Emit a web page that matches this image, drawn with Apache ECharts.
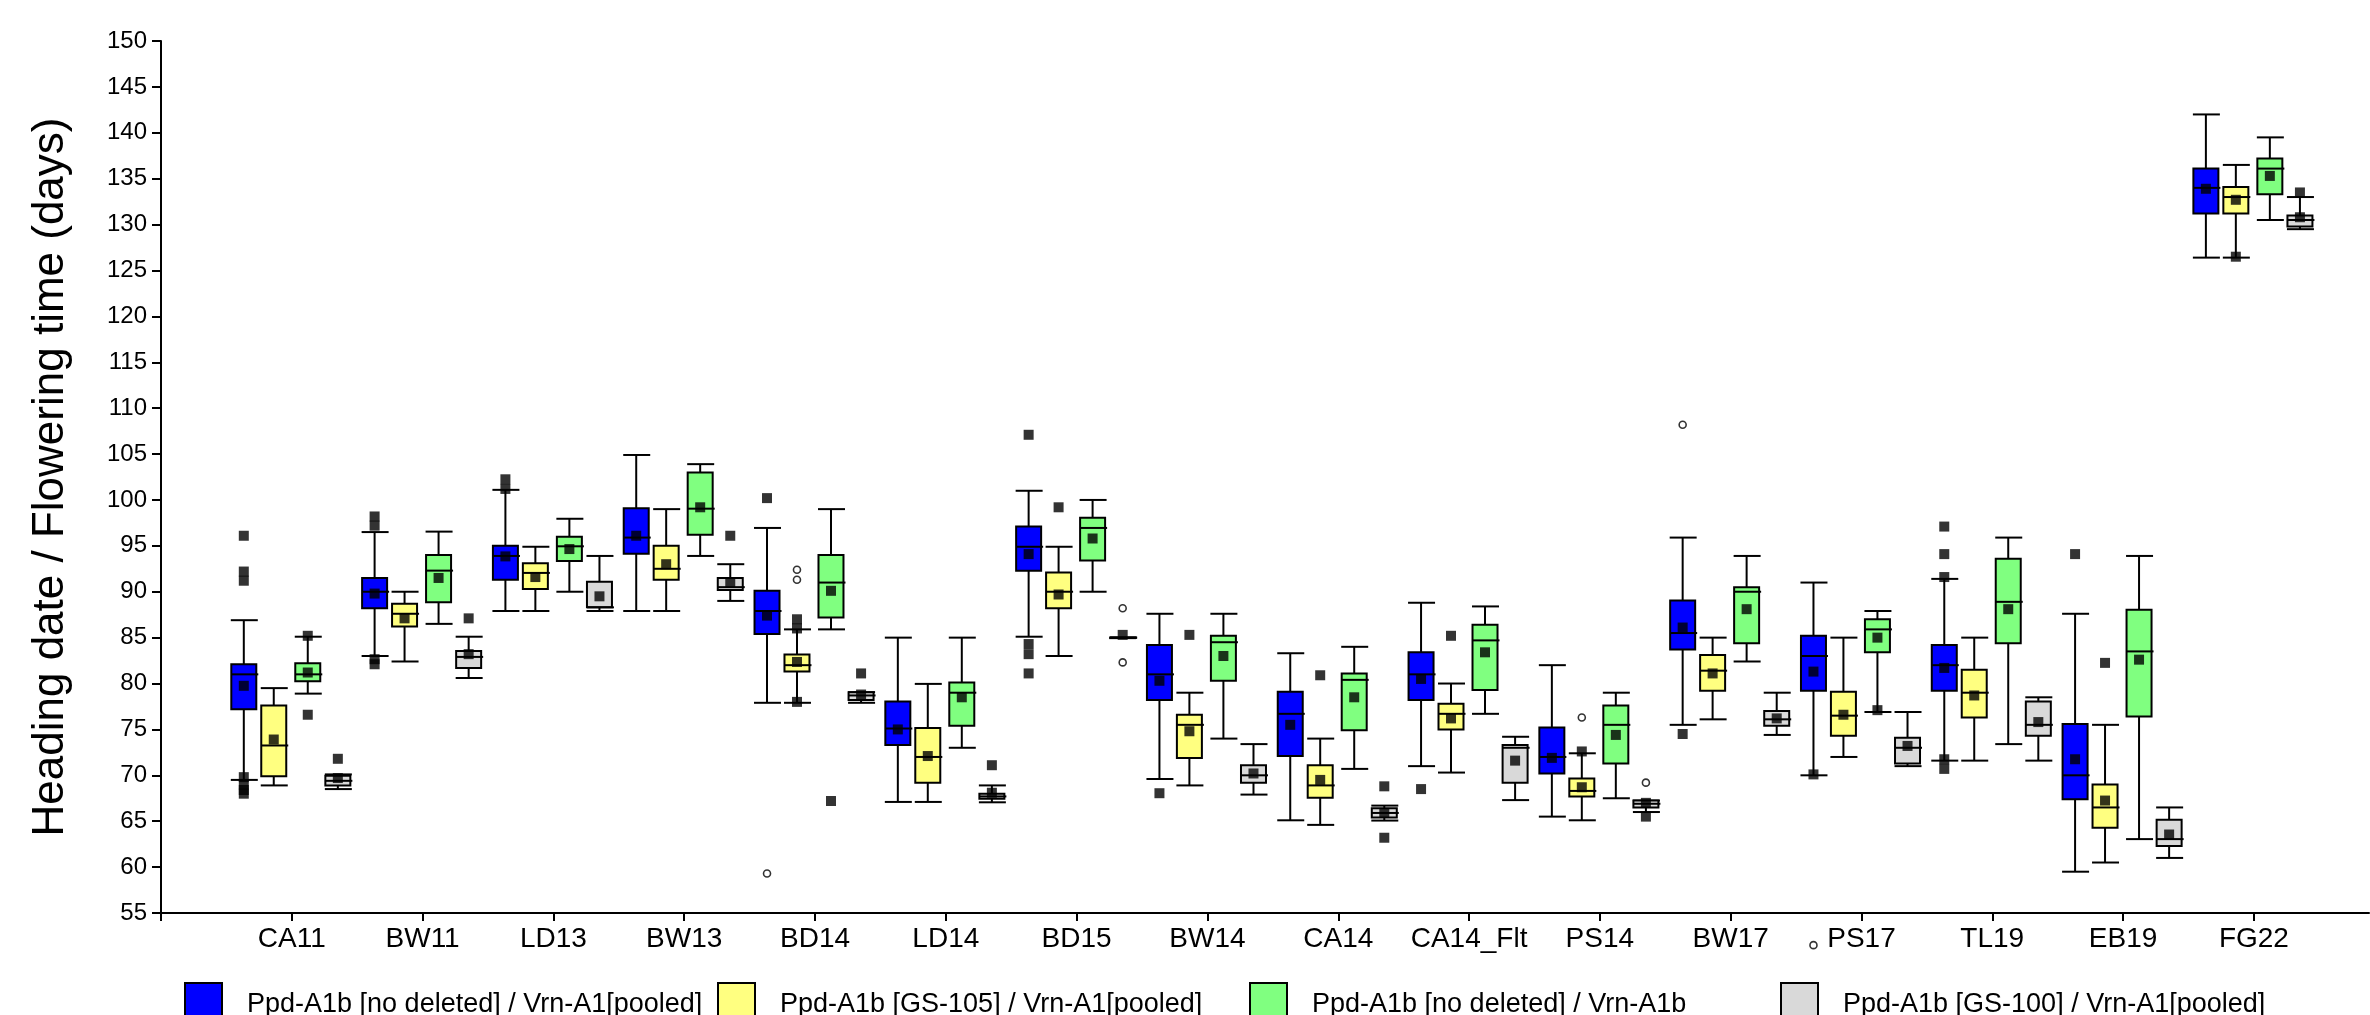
<!DOCTYPE html>
<html><head><meta charset="utf-8">
<script src="https://cdn.jsdelivr.net/npm/echarts@6/dist/echarts.min.js"></script>
<style>html,body{margin:0;padding:0;background:#fff}#c{width:2370px;height:1015px}</style>
</head><body><div id="c"></div>
<script>
// ---------------- data ----------------
const categories = ['CA11','BW11','LD13','BW13','BD14','LD14','BD15','BW14','CA14','CA14_Flt','PS14','BW17','PS17','TL19','EB19','FG22'];
const groupNames = [
  'Ppd-A1b [no deleted] / Vrn-A1[pooled]',
  'Ppd-A1b [GS-105] / Vrn-A1[pooled]',
  'Ppd-A1b [no deleted] / Vrn-A1b',
  'Ppd-A1b [GS-100] / Vrn-A1[pooled]'
];
const yMin = 55, yMax = 150, yStep = 5;

// boxes: [low whisker, Q1, median, Q3, high whisker] per category
const boxBlue = [
  [69.5,77.2,81.0,82.1,86.9],[83.0,88.2,90.0,91.5,96.5],[87.9,91.3,93.9,95.0,101.1],[87.9,94.15,95.9,99.1,104.9],
  [77.9,85.4,87.9,90.1,96.95],[67.1,73.3,75.1,78.05,85.0],[85.1,92.3,94.9,97.1,101.0],[69.6,78.2,81.0,84.2,87.6],
  [65.1,72.1,76.7,79.1,83.3],[71.0,78.2,81.0,83.4,88.8],[65.5,70.2,72.0,75.2,82.0],[75.5,83.7,85.5,89.05,95.9],
  [70.0,79.2,83.0,85.2,91.0],[71.6,79.2,82.0,84.2,91.4],[59.5,67.4,70.0,75.6,87.6],[126.4,131.2,134.0,136.1,142.0]
];
const boxYellow = [
  [68.9,69.9,73.25,77.6,79.5],[82.4,86.2,87.6,88.7,90.0],[87.9,90.3,92.05,93.1,94.9],[87.9,91.3,92.5,95.0,99.0],
  [77.9,81.3,82.0,83.15,85.9],[67.1,69.2,72.0,75.15,79.96],[83.0,88.2,90.0,92.1,94.9],[68.9,71.9,75.5,76.6,79.0],
  [64.6,67.55,68.9,71.1,74.0],[70.3,75.0,76.7,77.8,80.0],[65.1,67.7,68.3,69.65,72.4],[76.1,79.2,81.4,83.1,85.0],
  [72.0,74.3,76.5,79.1,85.0],[71.6,76.3,79.0,81.5,85.0],[60.5,64.3,66.5,69.0,75.5],[126.4,131.2,133.0,134.1,136.5]
];
const boxGreen = [
  [78.9,80.25,81.0,82.2,85.1],[86.5,88.85,92.3,94.0,96.55],[90.0,93.35,94.95,96.0,97.95],[93.9,96.2,99.05,103.0,103.9],
  [85.9,87.2,91.0,94.0,99.0],[73.0,75.4,79.0,80.1,85.0],[90.0,93.4,96.95,98.05,100.0],[74.0,80.3,84.5,85.2,87.6],
  [70.7,74.9,80.4,81.1,84.0],[76.7,79.3,84.7,86.4,88.4],[67.5,71.3,75.5,77.6,79.0],[82.4,84.4,90.0,90.5,93.9],
  [76.9,83.4,85.9,87.0,87.9],[73.4,84.4,88.9,93.6,95.9],[63.05,76.4,83.5,88.05,93.9],[130.5,133.3,136.1,137.2,139.5]
];
const boxGray = [
  [68.5,68.9,69.4,69.95,70.1],[80.6,81.7,82.9,83.55,85.1],[87.9,88.3,88.3,91.1,93.9],[89.0,90.2,90.5,91.5,93.0],
  [77.9,78.2,78.7,79.06,79.06],[67.06,67.44,67.7,68.0,68.9],[85.0,85.0,85.0,85.0,85.0],[67.9,69.2,70.0,71.1,73.4],
  [65.07,65.4,65.9,66.4,66.7],[67.3,69.2,73.0,73.3,74.2],[66.0,66.5,66.9,67.25,67.25],[74.4,75.4,76.1,77.0,79.0],
  [71.0,71.3,73.0,74.1,76.9],[71.6,74.3,75.5,78.05,78.5],[61.0,62.3,63.05,65.15,66.5],[129.5,129.8,130.5,131.0,133.0]
];

// means per category
const meanBlue   = [79.75,89.8,93.85,96.1,87.4,75.0,94.1,80.3,75.5,80.5,71.9,86.1,81.3,81.7,71.75,133.9];
const meanYellow = [73.9,87.1,91.6,93.0,82.35,72.1,89.7,74.8,69.5,76.2,68.7,81.1,76.6,78.7,67.25,132.7];
const meanGreen  = [81.2,91.5,94.65,99.2,90.1,78.5,95.8,83.0,78.5,83.4,74.4,88.1,85.0,88.1,82.6,135.3];
const meanGray   = [69.7,83.2,89.5,91.0,78.8,68.1,85.3,70.2,65.9,71.6,67.0,76.2,73.2,75.8,63.55,130.8];

// outliers: [category index (0-based), value]
const outSqBlue = [[0,96.1],[0,92.2],[0,91.2],[0,69.8],[0,69.0],[0,68.4],[0,68.0],[1,98.2],[1,97.2],[1,82.65],[1,82.1],
  [2,102.25],[2,101.2],[4,100.2],[6,107.1],[6,84.3],[6,83.2],[6,81.1],[7,68.05],[9,68.5],[11,74.5],[12,70.1],
  [13,97.1],[13,94.1],[13,91.6],[13,71.75],[13,70.7],[14,94.1]];
const outCiBlue = [[4,59.3],[11,108.2],[12,51.5]];
const outSqYellow = [[4,87.0],[4,86.0],[4,78.0],[6,99.2],[7,85.3],[8,80.9],[9,85.2],[10,72.6],[14,82.25],[15,126.5]];
const outCiYellow = [[4,92.4],[4,91.3],[10,76.3]];
const outSqGreen = [[0,85.2],[0,76.6],[4,67.2],[12,77.1]];
const outCiGreen = [];
const outSqGray = [[0,71.8],[1,87.1],[3,96.1],[4,81.1],[5,71.1],[8,68.8],[8,63.2],[10,65.5],[15,133.5]];
const outCiGray = [[6,88.2],[6,82.3],[10,69.2]];

// ---------------- chart ----------------
const colors = ['#0000ff','#ffff80','#80ff80','#d9d9d9'];
const offsets = [-0.367,-0.138,0.122,0.352];
const boxes = [boxBlue,boxYellow,boxGreen,boxGray];
const means = [meanBlue,meanYellow,meanGreen,meanGray];
const outSq = [outSqBlue,outSqYellow,outSqGreen,outSqGray];
const outCi = [outCiBlue,outCiYellow,outCiGreen,outCiGray];
const FONT = '"Liberation Sans", Arial, sans-serif';

function renderBox(g){
  return function(params, api){
    const x = api.value(0) + offsets[g];
    const pLo = api.coord([x, api.value(1)]);
    const pQ1 = api.coord([x, api.value(2)]);
    const pMd = api.coord([x, api.value(3)]);
    const pQ3 = api.coord([x, api.value(4)]);
    const pHi = api.coord([x, api.value(5)]);
    const cx = pLo[0], hw = 12.5, cw = 13;
    const ls = {stroke:'#000', lineWidth:2};
    return {type:'group', children:[
      {type:'line', shape:{x1:cx,y1:pHi[1],x2:cx,y2:pQ3[1]}, style:ls},
      {type:'line', shape:{x1:cx,y1:pQ1[1],x2:cx,y2:pLo[1]}, style:ls},
      {type:'line', shape:{x1:cx-cw,y1:pHi[1],x2:cx+cw+1,y2:pHi[1]}, style:ls},
      {type:'line', shape:{x1:cx-cw,y1:pLo[1],x2:cx+cw+1,y2:pLo[1]}, style:ls},
      {type:'rect', shape:{x:cx-hw,y:pQ3[1],width:2*hw,height:Math.max(pQ1[1]-pQ3[1],0.5)}, style:{fill:colors[g],stroke:'#000',lineWidth:2}},
      {type:'line', shape:{x1:cx-hw,y1:pMd[1],x2:cx+hw+2,y2:pMd[1]}, style:ls}
    ]};
  };
}

const series = [];
for (let g=0; g<4; g++){
  series.push({
    name: groupNames[g], type:'custom', renderItem: renderBox(g), z:2,
    itemStyle:{color:colors[g]},
    encode:{x:0, y:[1,2,3,4,5]},
    data: boxes[g].map((b,i)=>[i+1].concat(b)),
    silent:true
  });
}
for (let g=0; g<4; g++){
  series.push({
    type:'scatter', symbol:'rect', symbolSize:10, z:5, silent:true, clip:false,
    itemStyle:{color:'#000'},
    data: means[g].map((m,i)=>[i+1+offsets[g], m])
  });
  series.push({
    type:'scatter', symbol:'rect', symbolSize:10, z:5, silent:true, clip:false,
    itemStyle:{color:'#000'},
    data: outSq[g].map(p=>[p[0]+1+offsets[g], p[1]])
  });
  series.push({
    type:'scatter', symbol:'circle', symbolSize:7, z:5, silent:true, clip:false,
    itemStyle:{color:'#fff', borderColor:'#000', borderWidth:1.6},
    data: outCi[g].map(p=>[p[0]+1+offsets[g], p[1]])
  });
}

const legendLefts = [184, 717, 1249, 1780];
const legends = groupNames.map((n,g)=>({
  left: legendLefts[g], top: 982, orient:'horizontal', selectedMode:false,
  itemWidth: 37, itemHeight: 44, padding:0,
  textStyle:{fontFamily:FONT, fontSize:27, color:'#000', padding:[0,0,2,20]},
  data:[{name:n, icon:'rect', itemStyle:{color:colors[g], borderColor:'#000', borderWidth:2}}]
}));

const chart = echarts.init(document.getElementById('c'), null, {renderer:'canvas'});
chart.setOption({
  animation:false,
  backgroundColor:'#fff',
  textStyle:{fontFamily:FONT},
  grid:{left:161, right:1, top:41, bottom:102, containLabel:false},
  legend: legends,
  xAxis:{
    type:'value', min:0, max:16.88, interval:1,
    axisLine:{show:true, onZero:false, lineStyle:{color:'#000', width:2}},
    axisTick:{show:true, length:8, lineStyle:{color:'#000', width:2}, customValues:[0,1,2,3,4,5,6,7,8,9,10,11,12,13,14,15,16]},
    axisLabel:{show:true, fontSize:28, color:'#000', margin:12, fontFamily:FONT,
      customValues:[1,2,3,4,5,6,7,8,9,10,11,12,13,14,15,16],
      formatter:(v)=>{const i=Math.round(v)-1; return (i>=0 && i<categories.length && Math.abs(v-Math.round(v))<1e-6)?categories[i]:'';}},
    splitLine:{show:false}
  },
  yAxis:{
    type:'value', min:yMin, max:yMax, interval:yStep,
    name:'Heading date / Flowering time (days)', nameLocation:'middle', nameGap:88,
    nameTextStyle:{fontSize:44, color:'#000', fontFamily:FONT},
    axisLine:{show:true, lineStyle:{color:'#000', width:2}},
    axisTick:{show:true, length:9, lineStyle:{color:'#000', width:2}},
    axisLabel:{fontSize:24, color:'#000', margin:14, fontFamily:FONT},
    splitLine:{show:false}
  },
  series: series
});
</script></body></html>
